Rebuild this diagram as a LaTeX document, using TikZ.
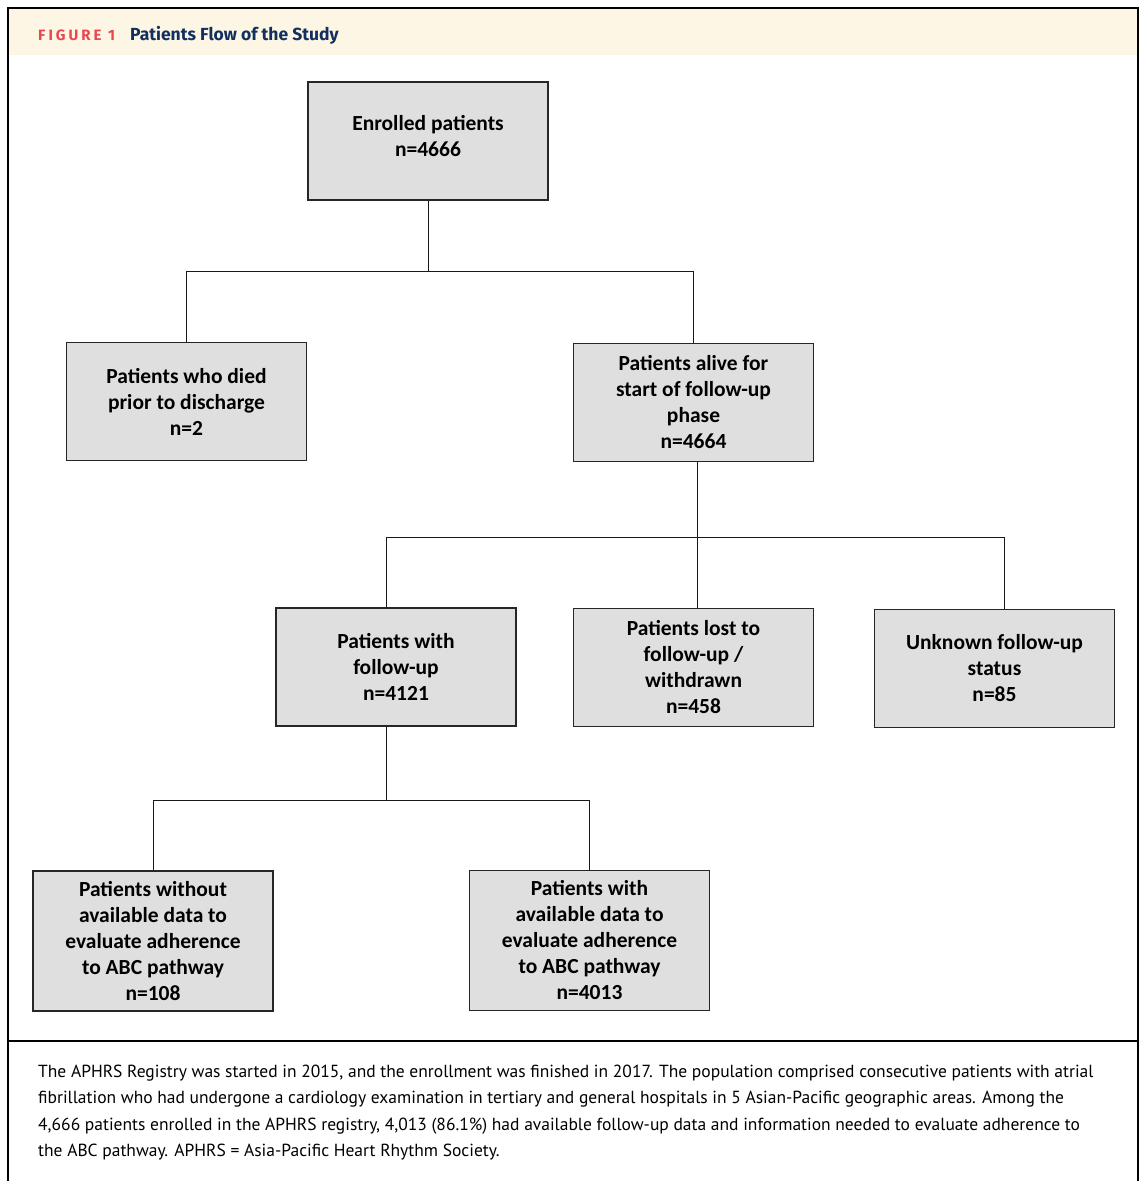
\documentclass[tikz,border=0pt]{standalone}
\usepackage{fontspec}
\setmainfont{PT Sans}
\newfontfamily\boxfont{Carlito}
\newfontfamily\headfont{Fira Sans}
\definecolor{headbg}{HTML}{FDF6E4}
\definecolor{figred}{HTML}{E8474F}
\definecolor{figblue}{HTML}{12305F}
\definecolor{boxgray}{HTML}{DFDFDF}
\begin{document}
\begin{tikzpicture}[x=1pt, y=-1pt,
  flowbox/.style={draw=black!85, fill=boxgray, line width=1.1pt, minimum width=240pt, minimum height=118pt, inner sep=0pt, align=center, font=\boxfont\bfseries\fontsize{21.5}{26}\selectfont},
  tallbox/.style={flowbox, minimum height=140pt},
  link/.style={draw=black!90, line width=1pt},
  capline/.style={anchor=base west, inner sep=0pt, font=\fontsize{17.5}{26}\selectfont}]
\useasboundingbox (0,0) rectangle (1142,1181);
\fill[headbg] (8,8) rectangle (1138,55);
\draw[line width=1.6pt] (8,1181) -- (8,8) -- (1138,8) -- (1138,1181);
\draw[line width=1.3pt] (8,1041) -- (1138,1041);
\node[anchor=base west, inner sep=0pt, text=figred, font=\headfont\bfseries\fontsize{15}{18}\selectfont\addfontfeature{LetterSpace=20}] (fignum) at (38,40) {FIGURE 1};
\node[anchor=base west, inner sep=0pt, text=figblue, font=\headfont\bfseries\fontsize{17.5}{20}\selectfont] (figtitle) at (130,40) {Patients Flow of the Study};

\node[flowbox, text depth=10pt] (enrolled) at (428,141) {Enrolled patients\\n=4666};
\node[flowbox] (died) at (186.5,401.5) {Patients who died\\prior to discharge\\n=2};
\node[flowbox] (alive) at (693.5,402.5) {Patients alive for\\start of follow-up\\phase\\n=4664};
\node[flowbox] (followup) at (396,667) {Patients with\\follow-up\\n=4121};
\node[flowbox] (lost) at (693.5,667.5) {Patients lost to\\follow-up /\\withdrawn\\n=458};
\node[flowbox] (unknown) at (994.5,668.5) {Unknown follow-up\\status\\n=85};
\node[tallbox] (nodata) at (153,941) {Patients without\\available data to\\evaluate adherence\\to ABC pathway\\n=108};
\node[tallbox] (withdata) at (589.5,940.5) {Patients with\\available data to\\evaluate adherence\\to ABC pathway\\n=4013};

\coordinate (split1) at (428,271);
\coordinate (split2) at (697,537);
\coordinate (split3) at (386,800);
\draw[link] (enrolled.south) -- (split1);
\draw[link] (died.north) |- (split1);
\draw[link] (alive.north) |- (split1);
\draw[link] ([xshift=3.5pt]alive.south) -- (split2);
\draw[link] ([xshift=-10pt]followup.north) |- (split2);
\draw[link] ([xshift=3.5pt]lost.north) -- (split2);
\draw[link] ([xshift=9.5pt]unknown.north) |- (split2);
\draw[link] ([xshift=-10pt]followup.south) -- (split3);
\draw[link] (nodata.north) |- (split3);
\draw[link] (withdata.north) |- (split3);

\node[capline] (cap1) at (38,1077) {The APHRS Registry was started in 2015, and the enrollment was finished in 2017. The population comprised consecutive patients with atrial};
\node[capline] (cap2) at (38,1103) {fibrillation who had undergone a cardiology examination in tertiary and general hospitals in 5 Asian-Pacific geographic areas. Among the};
\node[capline] (cap3) at (38,1130) {4,666 patients enrolled in the APHRS registry, 4,013 (86.1\%) had available follow-up data and information needed to evaluate adherence to};
\node[capline] (cap4) at (38,1156) {the ABC pathway. APHRS = Asia-Pacific Heart Rhythm Society.};
\end{tikzpicture}
\end{document}
